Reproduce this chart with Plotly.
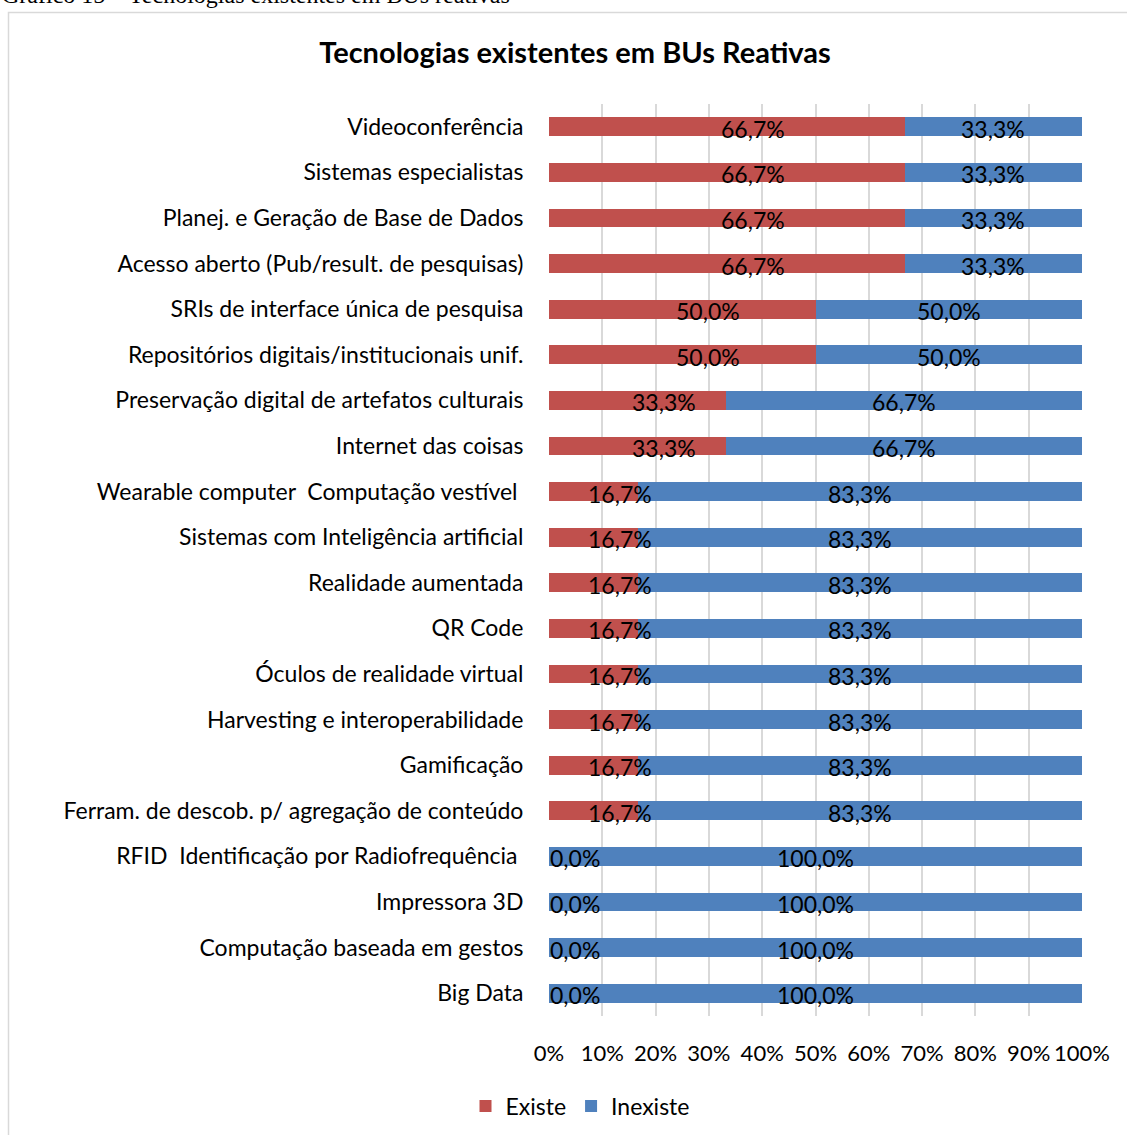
import plotly.graph_objects as go

categories = [
    "Videoconferência",
    "Sistemas especialistas",
    "Planej. e Geração de Base de Dados",
    "Acesso aberto (Pub/result. de pesquisas)",
    "SRIs de interface única de pesquisa",
    "Repositórios digitais/institucionais unif.",
    "Preservação digital de artefatos culturais",
    "Internet das coisas",
    "Wearable computer\u00a0 Computação vestível\u00a0",
    "Sistemas com Inteligência artificial",
    "Realidade aumentada",
    "QR Code",
    "Óculos de realidade virtual",
    "Harvesting e interoperabilidade",
    "Gamificação",
    "Ferram. de descob. p/ agregação de conteúdo",
    "RFID\u00a0 Identificação por Radiofrequência\u00a0",
    "Impressora 3D",
    "Computação baseada em gestos",
    "Big Data",
]
existe = [66.7, 66.7, 66.7, 66.7, 50.0, 50.0, 33.3, 33.3,
          16.7, 16.7, 16.7, 16.7, 16.7, 16.7, 16.7, 16.7,
          0.0, 0.0, 0.0, 0.0]
inexiste = [33.3, 33.3, 33.3, 33.3, 50.0, 50.0, 66.7, 66.7,
            83.3, 83.3, 83.3, 83.3, 83.3, 83.3, 83.3, 83.3,
            100.0, 100.0, 100.0, 100.0]
tick_vals = [0, 10, 20, 30, 40, 50, 60, 70, 80, 90, 100]
tick_text = ["0%", "10%", "20%", "30%", "40%", "50%", "60%", "70%", "80%", "90%", "100%"]

RED = "#C0504D"
BLUE = "#4F81BD"
FONT = "Lato"

def fmt(v):
    return f"{v:.1f}%".replace(".", ",")

fig = go.Figure()
fig.add_trace(go.Bar(y=categories, x=existe, orientation="h", name="Existe",
                     marker=dict(color=RED, line=dict(width=0)), hoverinfo="skip"))
fig.add_trace(go.Bar(y=categories, x=inexiste, orientation="h", name="Inexiste",
                     marker=dict(color=BLUE, line=dict(width=0)), hoverinfo="skip"))

L, R, T, B = 549, 1082, 104, 1016
W, H = 1127, 1135
pw, ph = R - L, B - T

def px2x(p):
    return (p - L) / pw

def py2y(p):
    return (B - p) / ph

annotations = []
for c, e, i in zip(categories, existe, inexiste):
    annotations.append(dict(x=e / 2, y=c, xref="x", yref="y", text=fmt(e),
                            showarrow=False, xshift=26, yshift=-2,
                            font=dict(family=FONT, size=23, color="black")))
    annotations.append(dict(x=e + i / 2, y=c, xref="x", yref="y", text=fmt(i),
                            showarrow=False, yshift=-2,
                            font=dict(family=FONT, size=23, color="black")))

# caption above chart (partially cut at top, as in the source page)
annotations.append(dict(x=px2x(0), y=py2y(10), xref="paper", yref="paper",
                        text="Gráfico 15 – Tecnologias existentes em BUs reativas",
                        showarrow=False, xanchor="left", yanchor="bottom",
                        font=dict(family="Liberation Serif", size=24, color="black")))

fig.update_layout(
    width=W, height=H,
    margin=dict(l=L, r=W - R, t=T, b=H - B, autoexpand=False),
    barmode="stack",
    bargap=0.59,
    paper_bgcolor="white",
    plot_bgcolor="white",
    title=dict(text="<b>Tecnologias existentes em BUs Reativas</b>",
               x=575 / W, xanchor="center", xref="container",
               y=1 - 53 / H, yanchor="middle", yref="container",
               font=dict(family=FONT, size=29, color="black")),
    xaxis=dict(range=[0, 100], tickvals=tick_vals, ticktext=tick_text,
               tickangle=0,
               showgrid=True, gridcolor="#D9D9D9", gridwidth=1.5,
               zeroline=False, showline=False, ticks="outside", ticklen=18,
               tickcolor="rgba(0,0,0,0)",
               tickfont=dict(family=FONT, size=22, color="black")),
    yaxis=dict(autorange="reversed", showgrid=False, showline=False,
               ticks="outside", ticklen=20, tickcolor="rgba(0,0,0,0)",
               tickfont=dict(family=FONT, size=23, color="black")),
    legend=dict(orientation="h", x=580 / W, xref="container", xanchor="center",
                y=1 - 1106 / H, yref="container", yanchor="middle",
                font=dict(family=FONT, size=23, color="black"),
                itemwidth=30, traceorder="normal"),
    annotations=annotations,
    shapes=[dict(type="rect", xref="paper", yref="paper",
                 x0=px2x(8.5), x1=px2x(1160), y0=py2y(1160), y1=py2y(12.5),
                 line=dict(color="#D9D9D9", width=1.5), fillcolor="rgba(0,0,0,0)",
                 layer="below")],
)

fig.write_html("out.html")
